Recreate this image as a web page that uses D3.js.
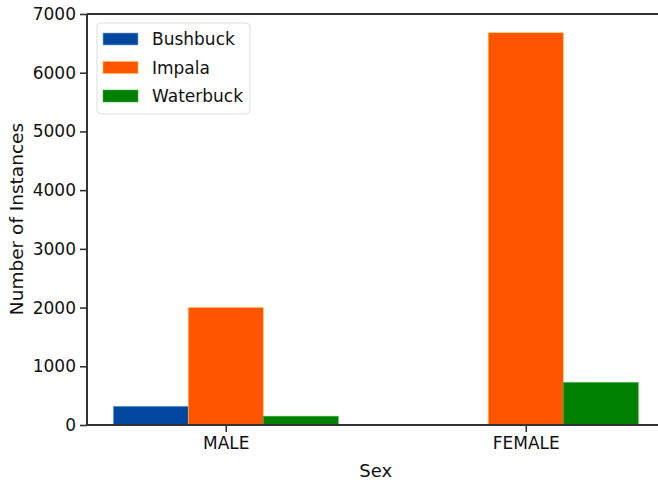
<!DOCTYPE html>
<html>
<head>
<meta charset="utf-8">
<script src="https://cdnjs.cloudflare.com/ajax/libs/d3/7.8.5/d3.min.js"></script>
<style>
  body { margin: 0; background: #fff; }
  text { font-family: "DejaVu Sans", sans-serif; fill: #111; }
</style>
</head>
<body>
<svg id="graph" width="658" height="484"></svg>
<script>
// data
var sexes = ["MALE", "FEMALE"];
var species = ["Bushbuck", "Impala", "Waterbuck"];
var bushbuck = [320, 0];
var impala = [2000, 6680];
var waterbuck = [150, 725];
var yTicks = [0, 1000, 2000, 3000, 4000, 5000, 6000, 7000];
var colors = ["#0047a0", "#ff5500", "#008000"];
var edges = ["#7fb8e0", "#ffc040", "#40b040"];

var series = [bushbuck, impala, waterbuck];

var svg = d3.select("#graph");
var mLeft = 87, mTop = 14, mBottom = 425;

// group position in data units like matplotlib (0, 1), bar width .25
var x = d3.scaleLinear().domain([-0.4625, 1.4625]).range([mLeft, mLeft + 1.925 * 300]);
var y = d3.scaleLinear().domain([0, 7000]).range([mBottom, mTop]);
var bw = 0.25;

series.forEach(function (vals, i) {
  svg.append("g").selectAll("rect")
    .data(vals).enter()
    .filter(function (d) { return d > 0; })
    .append("rect")
      .attr("x", function (d, j) { return x(j + (i - 1) * bw - bw / 2); })
      .attr("y", function (d) { return y(d); })
      .attr("width", x(bw) - x(0))
      .attr("height", function (d) { return mBottom - y(d); })
      .style("fill", colors[i])
      .style("stroke", edges[i])
      .style("stroke-width", 0.6);
});

// axes
var yAxis = d3.axisLeft(y).tickValues(yTicks).tickFormat(d3.format("d"))
  .tickSize(7).tickPadding(4);
var gy = svg.append("g").attr("transform", "translate(" + mLeft + ",0)").call(yAxis);
gy.selectAll("text").style("font-size", "17px");

var xAxis = d3.axisBottom(x).tickValues([0, 1]).tickFormat(function (d) { return sexes[d]; })
  .tickSize(7).tickPadding(5);
var gx = svg.append("g").attr("transform", "translate(0," + mBottom + ")").call(xAxis);
gx.selectAll("text").style("font-size", "17px");

svg.selectAll(".domain").remove();
svg.selectAll("g").attr("font-family", null);
svg.selectAll(".tick line").style("stroke", "#333").style("stroke-width", 1.6);

// spines
svg.append("line").attr("x1", mLeft).attr("x2", mLeft).attr("y1", mTop).attr("y2", mBottom)
  .style("stroke", "#333").style("stroke-width", 2);
svg.append("line").attr("x1", mLeft).attr("x2", 658).attr("y1", mTop).attr("y2", mTop)
  .style("stroke", "#333").style("stroke-width", 2);
svg.append("line").attr("x1", mLeft).attr("x2", 658).attr("y1", mBottom).attr("y2", mBottom)
  .style("stroke", "#333").style("stroke-width", 2);

// axis labels
svg.append("text").attr("x", x(0.5)).attr("y", 477).attr("text-anchor", "middle")
  .style("font-size", "18px").text("Sex");
svg.append("text").attr("transform", "translate(23,219) rotate(-90)")
  .attr("text-anchor", "middle").style("font-size", "18.5px").text("Number of Instances");

// legend
var lg = svg.append("g").attr("transform", "translate(97,23)");
lg.append("rect").attr("width", 153).attr("height", 91).attr("rx", 4)
  .style("fill", "#fff").style("stroke", "#ddd").style("stroke-width", 1);
species.forEach(function (s, i) {
  var row = lg.append("g").attr("transform", "translate(0," + (16 + i * 28.5) + ")");
  row.append("rect").attr("x", 6).attr("y", -6).attr("width", 35).attr("height", 12)
    .style("fill", colors[i]).style("stroke", edges[i]).style("stroke-width", 0.6);
  row.append("text").attr("x", 55).attr("y", 6).style("font-size", "17px").text(s);
});
</script>
</body>
</html>
